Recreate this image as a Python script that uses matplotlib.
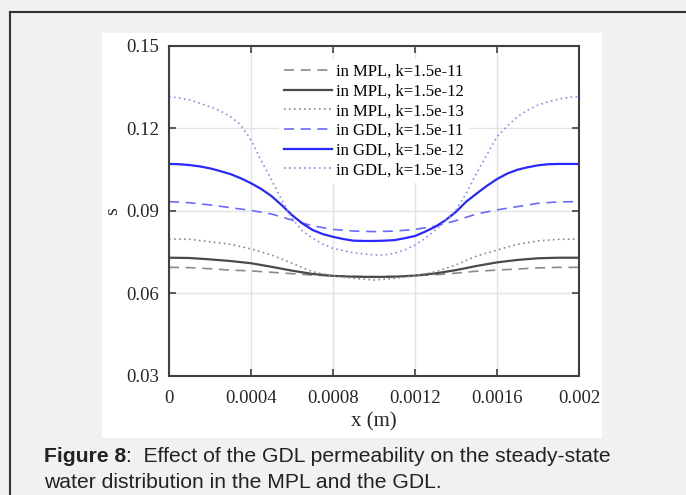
import numpy as np
import matplotlib.pyplot as plt
from matplotlib.patches import Rectangle
from matplotlib.lines import Line2D

# x positions (m)
x = [0.0000, 0.0001, 0.0002, 0.0003, 0.0004, 0.0005, 0.0006, 0.0007, 0.0008, 0.0009, 0.0010,
     0.0011, 0.0012, 0.0013, 0.0014, 0.0015, 0.0016, 0.0017, 0.0018, 0.0019, 0.0020]
# finer x for the steeper GDL curves
x_fine = [0.00000, 0.00005, 0.00010, 0.00015, 0.00020, 0.00025, 0.00030, 0.00035, 0.00040, 0.00045,
          0.00050, 0.00055, 0.00060, 0.00065, 0.00070, 0.00075, 0.00080, 0.00085, 0.00090, 0.00095,
          0.00100, 0.00105, 0.00110, 0.00115, 0.00120, 0.00125, 0.00130, 0.00135, 0.00140, 0.00145,
          0.00150, 0.00155, 0.00160, 0.00165, 0.00170, 0.00175, 0.00180, 0.00185, 0.00190, 0.00195,
          0.00200]

# liquid saturation
mpl_k11 = [0.0694, 0.0693, 0.0689, 0.0684, 0.0681, 0.0676, 0.0671, 0.0666, 0.0663, 0.0661, 0.0660,
           0.0661, 0.0664, 0.0667, 0.0673, 0.0680, 0.0684, 0.0688, 0.0692, 0.0694, 0.0694]
mpl_k12 = [0.0729, 0.0728, 0.0723, 0.0717, 0.0709, 0.0696, 0.0682, 0.0670, 0.0663, 0.0660, 0.0659,
           0.0660, 0.0664, 0.0672, 0.0684, 0.0699, 0.0712, 0.0721, 0.0727, 0.0729, 0.0729]
mpl_k13 = [0.0797, 0.0796, 0.0787, 0.0778, 0.0761, 0.0739, 0.0709, 0.0678, 0.0663, 0.0654, 0.0648,
           0.0654, 0.0663, 0.0678, 0.0703, 0.0735, 0.0757, 0.0778, 0.0790, 0.0796, 0.0797]
gdl_k11 = [0.0933, 0.0929, 0.0921, 0.0911, 0.0901, 0.0888, 0.0866, 0.0845, 0.0832, 0.0826, 0.0824,
           0.0826, 0.0832, 0.0844, 0.0864, 0.0888, 0.0903, 0.0915, 0.0927, 0.0932, 0.0933]
gdl_k12 = [0.1070, 0.1069, 0.1066, 0.1061, 0.1054, 0.1044, 0.1033, 0.1018, 0.1000, 0.0979,
           0.0953, 0.0920, 0.0884, 0.0854, 0.0830, 0.0815, 0.0805, 0.0797, 0.0791, 0.0790,
           0.0790, 0.0791, 0.0793, 0.0800, 0.0808, 0.0824, 0.0842, 0.0866, 0.0896, 0.0933,
           0.0962, 0.0990, 0.1015, 0.1035, 0.1049, 0.1058, 0.1065, 0.1069, 0.1070, 0.1070,
           0.1070]
gdl_k13 = [0.1315, 0.1310, 0.1303, 0.1291, 0.1278, 0.1263, 0.1242, 0.1212, 0.1157, 0.1082,
           0.1012, 0.0939, 0.0872, 0.0827, 0.0800, 0.0779, 0.0763, 0.0755, 0.0747, 0.0743,
           0.0739, 0.0739, 0.0745, 0.0757, 0.0775, 0.0800, 0.0830, 0.0864, 0.0903, 0.0963,
           0.1036, 0.1103, 0.1169, 0.1208, 0.1242, 0.1266, 0.1284, 0.1296, 0.1306, 0.1312,
           0.1315]

labels = ['in MPL, k=1.5e-11', 'in MPL, k=1.5e-12', 'in MPL, k=1.5e-13',
          'in GDL, k=1.5e-11', 'in GDL, k=1.5e-12', 'in GDL, k=1.5e-13']

xticks = [0, 0.0004, 0.0008, 0.0012, 0.0016, 0.002]
xticklabels = ['0', '0.0004', '0.0008', '0.0012', '0.0016', '0.002']
yticks = [0.03, 0.06, 0.09, 0.12, 0.15]
yticklabels = ['0.03', '0.06', '0.09', '0.12', '0.15']

W, H = 686, 495
fig = plt.figure(figsize=(W / 100, H / 100), dpi=100, facecolor='#f0f1f3')

# white panel behind the chart and page border
fig.patches.append(Rectangle((102 / W, 1 - 437.5 / H), 500 / W, 404.5 / H,
                             transform=fig.transFigure, facecolor='white', edgecolor='none', zorder=-10))
fig.lines.append(Line2D([10 / W, 1], [1 - 12 / H, 1 - 12 / H], transform=fig.transFigure,
                        color='#333333', lw=1.5))
fig.lines.append(Line2D([10 / W, 10 / W], [0, 1 - 12 / H], transform=fig.transFigure,
                        color='#333333', lw=1.5))

ax = fig.add_axes([169 / W, 1 - 375.7 / H, 410 / W, 330 / H])
ax.set_facecolor('white')

ax.plot(x, mpl_k11, color='#8a8a8a', lw=1.2, ls=(0, (6, 4)), label=labels[0])
ax.plot(x, mpl_k12, color='#4a4a4a', lw=1.6, ls='-', label=labels[1])
ax.plot(x, mpl_k13, color='#8a8a8a', lw=1.2, ls=(0, (1, 2)), label=labels[2])
ax.plot(x, gdl_k11, color='#6a6aff', lw=1.2, ls=(0, (6, 4)), label=labels[3])
ax.plot(x_fine, gdl_k12, color='#2828ff', lw=1.6, ls='-', label=labels[4])
ax.plot(x_fine, gdl_k13, color='#8a8aff', lw=1.2, ls=(0, (1, 2)), label=labels[5])

ax.set_xlim(0, 0.002)
ax.set_ylim(0.03, 0.15)
ax.set_xticks(xticks)
ax.set_xticklabels(xticklabels)
ax.set_yticks(yticks)
ax.set_yticklabels(yticklabels)
ax.grid(True, color='#e3e3e3', lw=1.0)
ax.set_axisbelow(True)

serif = 'Liberation Serif'
for t in ax.get_xticklabels() + ax.get_yticklabels():
    t.set_fontfamily(serif)
    t.set_fontsize(13.5)
    t.set_color('#262626')
ax.tick_params(direction='in', top=True, right=True, length=5, width=1.2, color='#404040')
ax.tick_params(axis='x', pad=10)
ax.tick_params(axis='y', pad=7)
for sp in ax.spines.values():
    sp.set_color('#404040')
    sp.set_linewidth(1.5)

ax.set_xlabel('x (m)', fontfamily=serif, fontsize=15, color='#262626', labelpad=4)
ax.set_ylabel('s', fontfamily=serif, fontsize=14, color='#262626', labelpad=4)

leg = ax.legend(loc='upper center', bbox_to_anchor=(0.5, 0.985), frameon=True,
                prop={'family': serif, 'size': 12}, handlelength=2.9, handletextpad=0.25,
                labelspacing=0.22, borderpad=0.3, fancybox=False)
leg.get_frame().set_facecolor('white')
leg.get_frame().set_edgecolor('none')
leg.get_frame().set_alpha(1.0)

# caption
cap_font = 15.2
fig.canvas.draw()
t1 = fig.text(44 / W, 1 - 456 / H, 'Figure 8', fontfamily='Liberation Sans', fontweight='bold',
              fontsize=cap_font, color='#222222', va='center')
fig.canvas.draw()
bb = t1.get_window_extent()
fig.text(bb.x1 / W, 1 - 456 / H, ':  Effect of the GDL permeability on the steady-state',
         fontfamily='Liberation Sans', fontsize=cap_font, color='#222222', va='center')
fig.text(44 / W, 1 - 482 / H, 'water distribution in the MPL and the GDL.',
         fontfamily='Liberation Sans', fontsize=cap_font, color='#222222', va='center')

fig.savefig('out.png', dpi=100, facecolor=fig.get_facecolor())
